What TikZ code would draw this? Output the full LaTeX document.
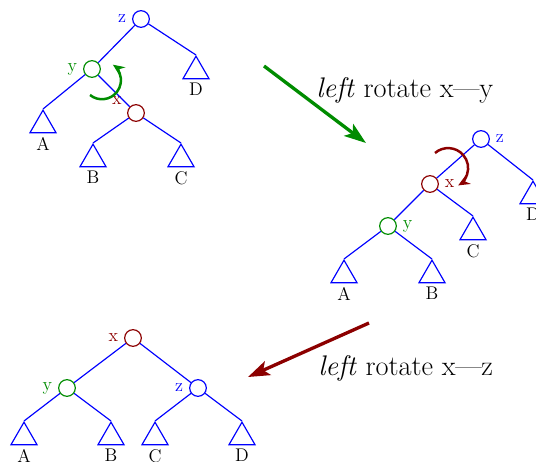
\documentclass[tikz,border=0pt]{standalone}
\usetikzlibrary{shapes.geometric,arrows.meta}
\definecolor{vgreen}{RGB}{0,140,0}
\definecolor{vred}{RGB}{140,0,0}
\begin{document}
\begin{tikzpicture}[x=0.6pt, y=-0.6pt,
    every label/.style={font=\fontsize{11}{13}\selectfont},
    vtx/.style={circle, draw, line width=0.7pt, minimum size=10pt, inner sep=0pt},
    subtree/.style={regular polygon, regular polygon sides=3, draw=blue, line width=0.7pt,
        minimum size=18pt, inner sep=0pt, anchor=corner 1, label={[yshift=1.2pt]below:#1}},
    edge/.style={draw=blue, line width=0.7pt},
    turn/.style={line width=1.5pt, -{Stealth[length=7pt, width=6pt]}},
    bigarrow/.style={line width=2pt, -{Stealth[length=13pt, width=9pt, inset=3pt]}},
    caption/.style={font=\fontsize{17}{20}\selectfont, inner sep=0pt, anchor=base west}
]
    \useasboundingbox (0,0) rectangle (536,461);
    \clip (0,0) rectangle (536,461);

    % before the rotation
    \node[vtx, draw=blue, label={[blue]left:z}] (z1) at (141,19) {};
    \node[vtx, draw=vgreen, label={[vgreen]left:y}] (y1) at (92,69) {};
    \node[vtx, draw=vred, label={[vred]162:x}] (x1) at (136,113) {};
    \node[subtree=A] (a1) at (43,109) {};
    \node[subtree=B] (b1) at (93,143) {};
    \node[subtree=C] (c1) at (181,143) {};
    \node[subtree=D] (d1) at (196,55) {};
    \draw[edge] (z1) -- (y1) (z1) -- (d1.corner 1)
        (y1) -- (a1.corner 1) (y1) -- (x1)
        (x1) -- (b1.corner 1) (x1) -- (c1.corner 1);
    \coordinate (t1) at (90,95);
    \draw[vgreen, turn] (t1) arc[start angle=129, end angle=-55, radius=19];

    % after x--y
    \node[vtx, draw=blue, label={[blue]right:z}] (z2) at (481,139) {};
    \node[vtx, draw=vred, label={[vred]right:x}] (x2) at (430,184) {};
    \node[vtx, draw=vgreen, label={[vgreen]right:y}] (y2) at (388,226) {};
    \node[subtree=A] (a2) at (344,259) {};
    \node[subtree=B] (b2) at (432,259) {};
    \node[subtree=C] (c2) at (473,216) {};
    \node[subtree=D] (d2) at (533,180) {};
    \draw[edge] (z2) -- (x2) (z2) -- (d2.corner 1)
        (x2) -- (y2) (x2) -- (c2.corner 1)
        (y2) -- (a2.corner 1) (y2) -- (b2.corner 1);
    \coordinate (t2) at (435,153);
    \draw[vred, turn] (t2) arc[start angle=-131, end angle=60, radius=20];

    % after x--z
    \node[vtx, draw=vred, label={[vred]left:x}] (x3) at (133,338) {};
    \node[vtx, draw=vgreen, label={[vgreen]left:y}] (y3) at (67,388) {};
    \node[vtx, draw=blue, label={[blue]left:z}] (z3) at (198,388) {};
    \node[subtree=A] (a3) at (24,421) {};
    \node[subtree=B] (b3) at (111,421) {};
    \node[subtree=C] (c3) at (155,421) {};
    \node[subtree=D] (d3) at (242,421) {};
    \draw[edge] (x3) -- (y3) (x3) -- (z3)
        (y3) -- (a3.corner 1) (y3) -- (b3.corner 1)
        (z3) -- (c3.corner 1) (z3) -- (d3.corner 1);

    % the two steps
    \coordinate (g1) at (264,66);
    \coordinate (g2) at (366,143);
    \draw[vgreen, bigarrow] (g1) -- (g2);
    \node[caption] (rot1) at (316,97) {\textit{left} rotate x---y};
    \coordinate (r1) at (369,323);
    \coordinate (r2) at (248,377);
    \draw[vred, bigarrow] (r1) -- (r2);
    \node[caption] (rot2) at (318,375) {\textit{left} rotate x---z};
\end{tikzpicture}
\end{document}
